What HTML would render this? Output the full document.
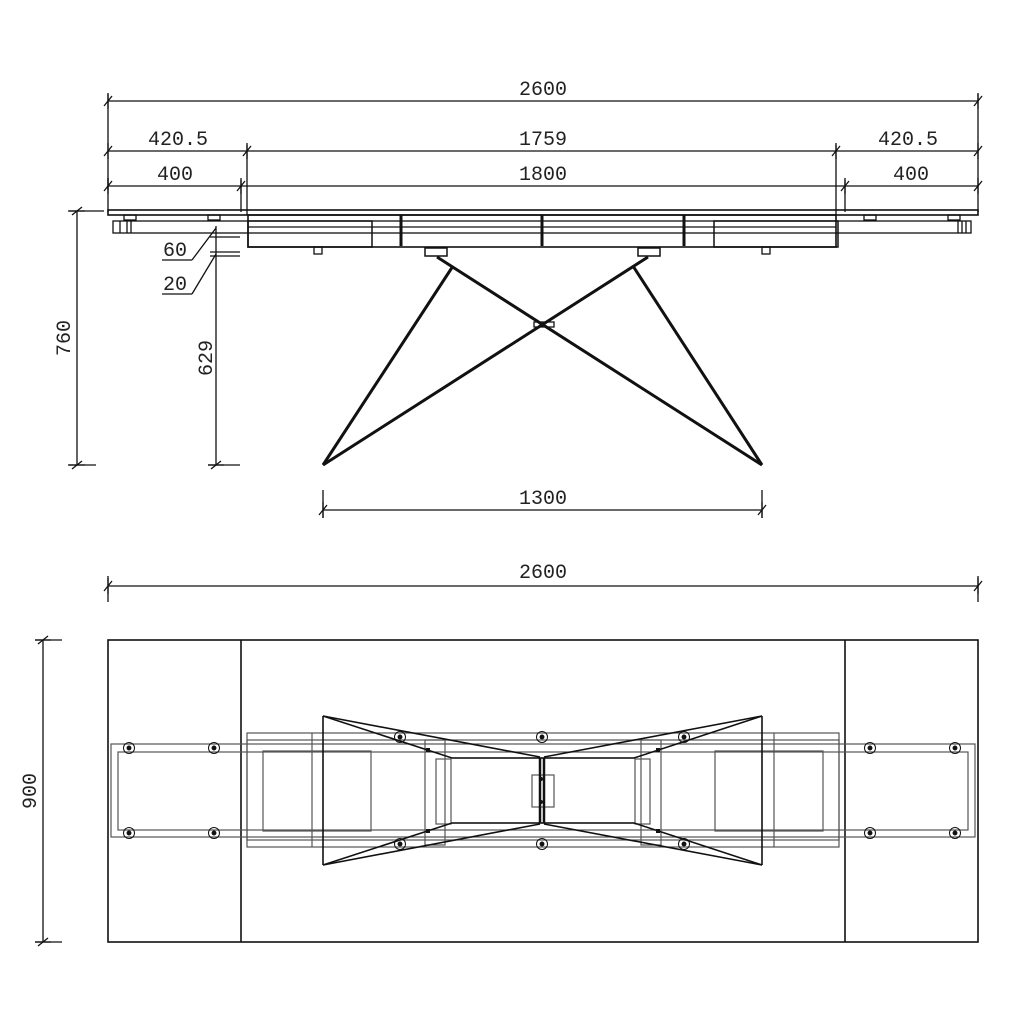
<!DOCTYPE html>
<html><head><style>body{margin:0;background:#fff}svg{display:block}text{font-family:"Liberation Mono","DejaVu Sans Mono",monospace;font-size:20px;fill:#222}</style></head>
<body>
<svg width="1024" height="1024" viewBox="0 0 1024 1024" xmlns="http://www.w3.org/2000/svg" fill="none" stroke="#111" stroke-width="1.3">
<defs>
<g id="tk"><line x1="-4" y1="5" x2="4" y2="-5"/><line x1="0" y1="-8" x2="0" y2="8"/></g>
<g id="tv"><line x1="-5" y1="4" x2="5" y2="-4"/><line x1="-8" y1="0" x2="8" y2="0"/></g>
<g id="bolt"><circle r="5.5" stroke-width="1"/><circle r="1.8" fill="#111"/></g>
</defs>
<!-- horizontal dims -->
<line x1="108" y1="101" x2="978" y2="101"/><use href="#tk" x="108" y="101"/><use href="#tk" x="978" y="101"/>
<text x="543" y="95" text-anchor="middle" stroke="none">2600</text>
<line x1="108" y1="151" x2="978" y2="151"/>
<use href="#tk" x="108" y="151"/><use href="#tk" x="247" y="151"/><use href="#tk" x="836" y="151"/><use href="#tk" x="978" y="151"/>
<text x="178" y="145" text-anchor="middle" stroke="none">420.5</text><text x="543" y="145" text-anchor="middle" stroke="none">1759</text><text x="908" y="145" text-anchor="middle" stroke="none">420.5</text>
<line x1="108" y1="186" x2="978" y2="186"/>
<use href="#tk" x="108" y="186"/><use href="#tk" x="241" y="186"/><use href="#tk" x="845" y="186"/><use href="#tk" x="978" y="186"/>
<text x="175" y="180" text-anchor="middle" stroke="none">400</text><text x="543" y="180" text-anchor="middle" stroke="none">1800</text><text x="911" y="180" text-anchor="middle" stroke="none">400</text>
<line x1="108" y1="178" x2="108" y2="212"/><line x1="247" y1="145" x2="247" y2="215"/><line x1="241" y1="180" x2="241" y2="212"/><line x1="836" y1="145" x2="836" y2="215"/><line x1="845" y1="180" x2="845" y2="212"/><line x1="978" y1="94" x2="978" y2="212"/><line x1="108" y1="94" x2="108" y2="190"/>
<!-- side view table -->
<rect x="108" y="210" width="870" height="5" stroke-width="1.6"/>
<rect x="113" y="221" width="858" height="12"/>
<rect x="248" y="215" width="588" height="32" stroke-width="1.6"/>
<line x1="248" y1="227" x2="836" y2="227"/>
<rect x="248" y="221" width="124" height="26" stroke-width="1.5"/>
<rect x="714" y="221" width="124" height="26" stroke-width="1.5"/>
<line x1="120" y1="221" x2="120" y2="233"/><line x1="127" y1="221" x2="127" y2="233"/><line x1="131" y1="221" x2="131" y2="233"/>
<line x1="958" y1="221" x2="958" y2="233"/><line x1="962" y1="221" x2="962" y2="233"/><line x1="966" y1="221" x2="966" y2="233"/>
<rect x="124" y="215" width="12" height="5"/><rect x="208" y="215" width="12" height="5"/><rect x="864" y="215" width="12" height="5"/><rect x="948" y="215" width="12" height="5"/>
<rect x="314" y="247" width="8" height="7"/><rect x="762" y="247" width="8" height="7"/>
<g stroke-width="3"><line x1="401" y1="215" x2="401" y2="246"/><line x1="542" y1="215" x2="542" y2="246"/><line x1="684" y1="215" x2="684" y2="246"/></g>
<rect x="425" y="248" width="22" height="8" stroke-width="1.5"/><rect x="638" y="248" width="22" height="8" stroke-width="1.5"/>
<rect x="534" y="322" width="20" height="5"/>
<g stroke-width="3"><line x1="437" y1="257" x2="762" y2="465"/><line x1="648" y1="257" x2="323" y2="465"/><line x1="453" y1="266" x2="323" y2="465"/><line x1="633" y1="266" x2="762" y2="465"/></g>
<!-- 60/20 -->
<line x1="216" y1="226" x2="216" y2="465"/><line x1="210" y1="237" x2="240" y2="237"/><line x1="210" y1="252" x2="240" y2="252"/><line x1="210" y1="256" x2="240" y2="256"/>
<line x1="162" y1="260" x2="192" y2="260"/><line x1="192" y1="260" x2="216" y2="228"/>
<line x1="162" y1="294" x2="192" y2="294"/><line x1="192" y1="294" x2="216" y2="254"/>
<text x="163" y="256" stroke="none">60</text><text x="163" y="290" stroke="none">20</text>
<!-- vertical dims -->
<line x1="77" y1="211" x2="77" y2="465"/><line x1="68" y1="211" x2="104" y2="211"/><line x1="68" y1="465" x2="96" y2="465"/><use href="#tv" x="77" y="211"/><use href="#tv" x="77" y="465"/>
<text transform="translate(70,338) rotate(-90)" text-anchor="middle" stroke="none">760</text>
<line x1="208" y1="465" x2="240" y2="465"/><use href="#tv" x="216" y="465"/>
<text transform="translate(212,358) rotate(-90)" text-anchor="middle" stroke="none">629</text>
<line x1="323" y1="510" x2="762" y2="510"/><line x1="323" y1="490" x2="323" y2="518"/><line x1="762" y1="490" x2="762" y2="518"/><use href="#tk" x="323" y="510"/><use href="#tk" x="762" y="510"/>
<text x="543" y="504" text-anchor="middle" stroke="none">1300</text>
<line x1="108" y1="586" x2="978" y2="586"/><line x1="108" y1="576" x2="108" y2="602"/><line x1="978" y1="576" x2="978" y2="602"/><use href="#tk" x="108" y="586"/><use href="#tk" x="978" y="586"/>
<text x="543" y="578" text-anchor="middle" stroke="none">2600</text>
<line x1="43" y1="640" x2="43" y2="942"/><line x1="35" y1="640" x2="62" y2="640"/><line x1="35" y1="942" x2="62" y2="942"/><use href="#tv" x="43" y="640"/><use href="#tv" x="43" y="942"/>
<text transform="translate(36,791) rotate(-90)" text-anchor="middle" stroke="none">900</text>
<!-- plan view -->
<rect x="108" y="640" width="870" height="302" stroke-width="1.6"/>
<line x1="241" y1="640" x2="241" y2="942" stroke-width="1.6"/><line x1="845" y1="640" x2="845" y2="942" stroke-width="1.6"/>
<g stroke="#555" stroke-width="1.2">
<rect x="111" y="744" width="864" height="93"/><rect x="118" y="752" width="850" height="78"/>
<rect x="247" y="733" width="592" height="114"/><rect x="247" y="740" width="592" height="100"/>
<rect x="263" y="751" width="108" height="80"/><rect x="715" y="751" width="108" height="80"/>
<rect x="425" y="740" width="20" height="105"/><rect x="641" y="740" width="20" height="105"/>
<rect x="436" y="759" width="15" height="65"/><rect x="635" y="759" width="15" height="65"/>
<line x1="312" y1="733" x2="312" y2="847"/><line x1="774" y1="733" x2="774" y2="847"/>
<rect x="532" y="775" width="22" height="32"/>
<line x1="452" y1="758" x2="634" y2="758"/><line x1="452" y1="823" x2="634" y2="823"/>
</g>
<g stroke-width="1.6">
<line x1="323" y1="716" x2="323" y2="865"/><line x1="762" y1="716" x2="762" y2="865"/>
<polyline points="323,716 452,758 540,758 634,758 762,716"/>
<polyline points="323,865 452,823 540,823 634,823 762,865"/>
<line x1="323" y1="716" x2="540" y2="757"/><line x1="323" y1="865" x2="540" y2="824"/>
<line x1="762" y1="716" x2="544" y2="757"/><line x1="762" y1="865" x2="544" y2="824"/>
<line x1="540" y1="758" x2="540" y2="823" stroke-width="2.5"/><line x1="544" y1="758" x2="544" y2="823" stroke-width="2.5"/>
</g>
<use href="#bolt" x="129" y="748"/><use href="#bolt" x="214" y="748"/><use href="#bolt" x="129" y="833"/><use href="#bolt" x="214" y="833"/>
<use href="#bolt" x="870" y="748"/><use href="#bolt" x="955" y="748"/><use href="#bolt" x="870" y="833"/><use href="#bolt" x="955" y="833"/>
<use href="#bolt" x="400" y="737"/><use href="#bolt" x="400" y="844"/><use href="#bolt" x="542" y="737"/><use href="#bolt" x="542" y="844"/><use href="#bolt" x="684" y="737"/><use href="#bolt" x="684" y="844"/>
<g fill="#111" stroke="none"><rect x="426" y="748" width="4" height="4"/><rect x="426" y="829" width="4" height="4"/><rect x="656" y="748" width="4" height="4"/><rect x="656" y="829" width="4" height="4"/><circle cx="541" cy="779" r="2"/><circle cx="541" cy="802" r="2"/></g>
</svg>
</body></html>
